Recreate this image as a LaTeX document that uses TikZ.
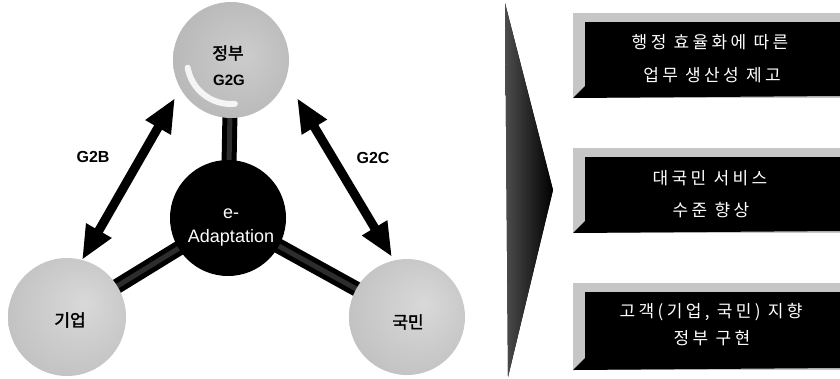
\documentclass[tikz,border=0pt]{standalone}
\usepackage{fontspec}
\setmainfont{Liberation Sans}
\newfontfamily\kr{Noto Sans CJK KR}[AutoFakeBold=2]
\newfontfamily\krs{Noto Sans CJK KR}[LetterSpace=20]
\usetikzlibrary{arrows.meta,shadings}
\pgfdeclarelayer{bg}
\pgfsetlayers{bg,main}
\pgfdeclareradialshading{sphshade}{\pgfpoint{8bp}{6bp}}{color(0bp)=(gray!30); color(25bp)=(gray!45); color(50bp)=(gray!62)}
\pgfdeclareradialshading{govshade}{\pgfpoint{6bp}{2bp}}{color(0bp)=(gray!40); color(28bp)=(gray!55); color(42bp)=(gray!68); color(50bp)=(gray!80)}
\begin{document}
\begin{tikzpicture}[x=1pt,y=-1pt,
  sphere/.style={circle, minimum size=#1, inner sep=0pt, shading=sphshade},
  govsphere/.style={circle, minimum size=#1, inner sep=0pt, shading=govshade},
  hubnode/.style={circle, minimum size=#1, inner sep=0pt, fill=black},
  stembar/.style={line width=15pt, black},
  stemin/.style={line width=5pt, gray!35!black},
  dblarrow/.style={line width=9pt, black, {Triangle[width=27pt,length=34pt]}-{Triangle[width=27pt,length=34pt]}},
  lab/.style={font=\bfseries\fontsize{16}{18}\selectfont, text=black},
  sphlab/.style={font=\kr\bfseries\fontsize{17}{19}\selectfont, text=black},
  boxtxt/.style={font=\krs\fontsize{17}{19}\selectfont, text=white},
  bevel/.style={fill=gray!45},
  front/.style={fill=black}
]
\useasboundingbox (0,0) rectangle (840,378);

% spheres and hub
\node[govsphere=116pt] (gov) at (231,60) {};
\node[sphere=118pt] (biz) at (67,317) {};
\node[sphere=116pt] (cit) at (407,317) {};
\node[hubnode=116pt] (hub) at (228,218) {};

\begin{pgfonlayer}{bg}
  \draw[stembar] (hub.center) -- (gov.center);
  \draw[stembar] (hub.center) -- (biz.center);
  \draw[stembar] (hub.center) -- (cit.center);
  \draw[stemin] (hub.center) -- (gov.center);
  \draw[stemin] (hub.center) -- (biz.center);
  \draw[stemin] (hub.center) -- (cit.center);
\end{pgfonlayer}

% white crescent on top sphere
\draw[white, line width=6pt, line cap=round, opacity=0.85] (gov.center) ++(190:44pt) arc[start angle=190, end angle=275, radius=44pt];

\node[sphlab] (govt) at (228,53) {정부};
\node[lab, font=\bfseries\fontsize{15}{17}\selectfont] (g2g) at (229,80) {G2G};
\node[sphlab] (bizt) at (70,320) {기업};
\node[sphlab] (citt) at (408,322) {국민};

\node[text=white, font=\fontsize{18}{20}\selectfont] (hube) at (231,214) {e-};
\node[text=white, font=\fontsize{18}{20}\selectfont] (huba) at (231,238) {Adaptation};

% double arrows
\coordinate (b1) at (175,98);
\coordinate (b2) at (82,260);
\coordinate (c1) at (297,98);
\coordinate (c2) at (392,257);
\draw[dblarrow] (b1) -- (b2);
\draw[dblarrow] (c1) -- (c2);
\node[lab] (g2b) at (93,157) {G2B};
\node[lab] (g2c) at (373,158) {G2C};

% chevron
\fill[left color=gray!60!black, right color=black] (505,3) -- (553,190) -- (508,377) -- cycle;

% boxes
\fill[bevel] (573,13) rectangle (840,98);
\fill[front] (585,22) -- (840,22) -- (840,96) -- (573,98) -- (585,86) -- cycle;
\node[boxtxt] (t1a) at (710,42) {행정 효율화에 따른};
\node[boxtxt] (t1b) at (712,75) {업무 생산성 제고};

\fill[bevel] (573,148) rectangle (840,233);
\fill[front] (585,157) -- (840,157) -- (840,231) -- (573,233) -- (585,221) -- cycle;
\node[boxtxt] (t2a) at (710,178) {대국민 서비스};
\node[boxtxt] (t2b) at (711,210) {수준 향상};

\fill[bevel] (573,283) rectangle (840,370);
\fill[front] (585,292) -- (840,292) -- (840,368) -- (573,370) -- (585,358) -- cycle;
\node[boxtxt] (t3a) at (711,312) {고객(기업, 국민) 지향};
\node[boxtxt] (t3b) at (712,338) {정부 구현};
\end{tikzpicture}
\end{document}
